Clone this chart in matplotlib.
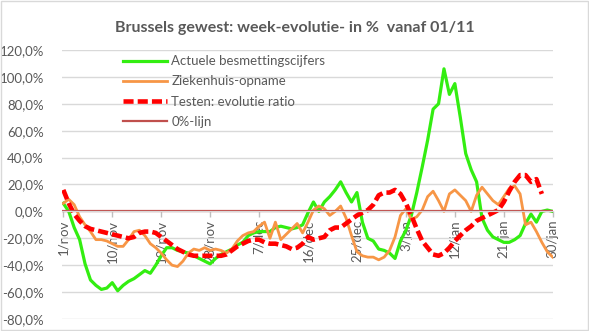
import numpy as np
import matplotlib.pyplot as plt
from matplotlib.patches import Rectangle
from matplotlib.ticker import FuncFormatter

plt.rcParams['font.family'] = ['Lato', 'DejaVu Sans']

# dagen sinds 1 november
dagen = np.arange(91)
tick_dagen = [0, 9, 18, 27, 36, 45, 54, 63, 72, 81, 90]
tick_labels = ['1/nov', '10/nov', '19/nov', '28/nov', '7/dec', '16/dec',
               '25/dec', '3/jan', '12/jan', '21/jan', '30/jan']

# week-evolutie in %
besmettingen = [6, 0, -12, -21, -39, -51, -55, -58, -57, -53,
                -59, -55, -52, -50, -47, -44, -46, -40, -33, -27,
                -27, -29, -30, -31, -33, -35, -37, -39, -35, -32,
                -30, -28, -25, -23, -18, -16, -15, -15, -15, -12,
                -11, -12, -13, -12, -10, -1, 7, 0, 7, 11,
                16, 22, 14, 7, 14, -8, -20, -22, -28, -29,
                -31, -35, -22, -14, -3, 14, 33, 53, 76, 80,
                106, 87, 95, 70, 43, 31, 22, -5, -14, -19,
                -21, -23, -23, -21, -18, -9, -2, -8, 0, 1,
                0]
ziekenhuis = [6, 9, 5, -4, -10, -15, -21, -21, -22, -24,
              -26, -26, -21, -15, -14, -18, -24, -27, -31, -36,
              -40, -41, -37, -31, -28, -29, -27, -29, -28, -29,
              -31, -28, -22, -18, -16, -15, -11, -8, -20, -8,
              -21, -17, -13, -9, -16, -8, 1, 4, 2, -3,
              0, 4, -5, -18, -30, -33, -34, -34, -36, -34,
              -29, -19, -3, 2, -6, -4, 1, 11, 15, 8,
              0, 13, 16, 12, 8, 0, 12, 18, 13, 8,
              5, 11, 17, 19, 13, -10, -8, -15, -23, -30,
              -34]
testen = [16, 6, -2, -7, -11, -13, -14, -15, -16, -17,
          -18, -19, -20, -19, -16, -15, -15, -16, -19, -22,
          -25, -28, -30, -32, -33, -33, -33, -33, -33, -33,
          -32, -29, -26, -24, -22, -21, -21, -23, -24, -24,
          -25, -26, -28, -27, -24, -19, -21, -20, -19, -14,
          -12, -12, -9, -6, -3, -1, 1, 5, 12, 14,
          14, 16, 13, 6, -3, -13, -22, -27, -32, -33,
          -31, -27, -22, -18, -14, -11, -7, -5, -3, -1,
          1, 7, 15, 22, 27, 27, 22, 24, 13]
nul_lijn = [0.0] * len(dagen)

grijs = '#595959'

fig = plt.figure(figsize=(5.89, 3.31), dpi=100)
ax = fig.add_axes([62 / 589, 1 - 319 / 331, 491 / 589, 269 / 331])

ax.plot(dagen, besmettingen, color='#33EE11', lw=2.3, label='Actuele besmettingscijfers')
ax.plot(dagen, ziekenhuis, color='#F79646', lw=2.0, label='Ziekenhuis-opname')
ax.plot(dagen[:len(testen)], testen, color='#FF0000', lw=3.3, dashes=(2.2, 0.9),
        dash_capstyle='butt', label='Testen: evolutie ratio')
ax.plot(dagen, nul_lijn, color='#C0504D', lw=1.6, label='0%-lijn')

ax.set_ylim(-80, 120)
ax.set_yticks(np.arange(-80, 121, 20))
ax.yaxis.set_major_formatter(FuncFormatter(lambda v, p: f'{v:.1f}%'.replace('.', ',')))
ax.set_xlim(-0.24, 90.05)
ax.set_xticks(tick_dagen)
ax.set_xticklabels(tick_labels)

ax.grid(axis='y', color='#D9D9D9', lw=1)
ax.set_axisbelow(True)
for s in ['left', 'right', 'top']:
    ax.spines[s].set_visible(False)
ax.spines['bottom'].set_position(('data', 0))
ax.spines['bottom'].set_color('#D9D9D9')
ax.tick_params(axis='x', colors='#BFBFBF', length=4, width=1, pad=2, labelcolor=grijs,
               labelsize=9.5, labelrotation=90)
ax.tick_params(axis='y', length=0, pad=13, labelcolor=grijs, labelsize=9.5)
for lbl in ax.get_xticklabels():
    lbl.set_va('top')
    lbl.set_ha('center')

fig.suptitle('Brussels gewest: week-evolutie- in %  vanaf 01/11', x=0.5, y=1 - 28 / 331,
             va='center', fontsize=11.5, fontweight='bold', color=grijs)

ax.legend(loc='upper left', bbox_to_anchor=(0.1, 1.025), frameon=False, fontsize=9.5,
          handlelength=3.3, handletextpad=0.35, labelspacing=0.62, labelcolor=grijs)

fig.patches.append(Rectangle((0.001, 0.002), 0.997, 0.996, transform=fig.transFigure,
                             fill=False, edgecolor='#D9D9D9', lw=1))

fig.savefig('out.png', dpi=100)
